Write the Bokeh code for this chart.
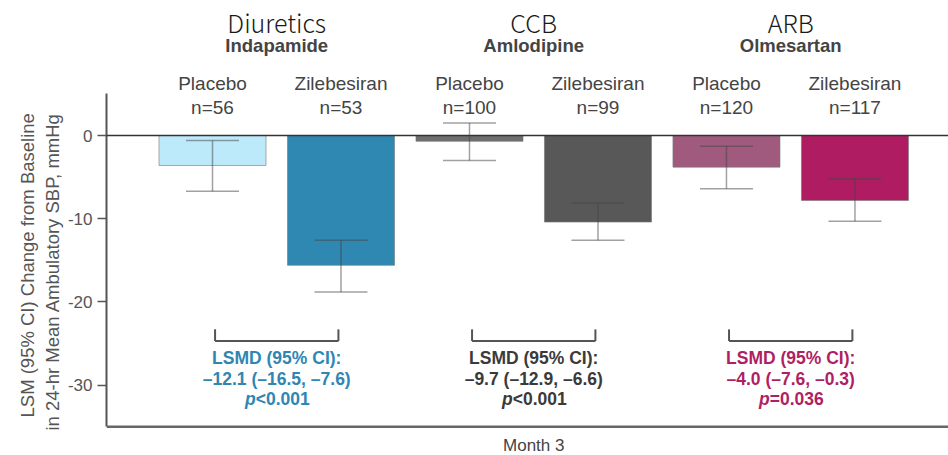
from bokeh.plotting import figure
from bokeh.models import (ColumnDataSource, FixedTicker, Span, Whisker, TeeHead, Title)
from bokeh.core.properties import value
from bokeh.embed import file_html
from bokeh.resources import INLINE

# --- data -----------------------------------------------------------------
classes = ["Diuretics", "CCB", "ARB"]
drugs = ["Indapamide", "Amlodipine", "Olmesartan"]
arms = ["Placebo", "Zilebesiran", "Placebo", "Zilebesiran", "Placebo", "Zilebesiran"]
n_labels = ["n=56", "n=53", "n=100", "n=99", "n=120", "n=117"]
lsm = [-3.6, -15.6, -0.7, -10.4, -3.8, -7.8]
ci_upper = [-0.6, -12.6, 1.5, -8.1, -1.3, -5.2]
ci_lower = [-6.7, -18.8, -3.0, -12.6, -6.4, -10.3]
bar_colors = ["#BDEAFB", "#2E88B2", "#6E6E6E", "#585858", "#A05A7E", "#B01C62"]

lsmd_text = ["\u201312.1 (\u201316.5, \u20137.6)", "\u20139.7 (\u201312.9, \u20136.6)", "\u20134.0 (\u20137.6, \u20130.3)"]
p_text = ["<0.001", "<0.001", "=0.036"]
lsmd_colors = ["#2F86B2", "#3A3A3A", "#AF1F63"]

y_ticks = [0, -10, -20, -30]
y_tick_labels = ["0", "-10", "-20", "-30"]
y_title = ["LSM (95% CI) Change from Baseline", "in 24-hr Mean Ambulatory SBP, mmHg"]
x_title = "Month 3"

# --- positions ---------------------------------------------------------------
x = list(range(len(arms)))
group_x = [(x[2 * g] + x[2 * g + 1]) / 2 for g in range(len(classes))]
y_floor = -35  # bottom of the value axis

src = ColumnDataSource(dict(x=x, top=[0] * len(x), bottom=lsm, color=bar_colors,
                            upper=ci_upper, lower=ci_lower))

p = figure(width=948, height=455, output_backend="svg", toolbar_location=None,
           x_range=(-0.825, 5.728), y_range=(-38.46, 16.23), x_axis_location=None,
           min_border_left=106, min_border_right=0, min_border_top=0, min_border_bottom=0)
p.outline_line_color = None
p.xgrid.visible = False
p.ygrid.visible = False
p.background_fill_color = "white"

# bars
p.vbar(x="x", top="top", bottom="bottom", width=0.833, fill_color="color",
       line_color="#777777", line_alpha=0.6, line_width=1, source=src)

# zero line and baseline of the chart
p.add_layout(Span(location=0, dimension="width", line_color="#333333", line_width=1.5))
p.add_layout(Span(location=y_floor, dimension="width", line_color="#666666", line_width=2.5))

# confidence intervals, drawn on top of the bars
head_kw = dict(size=53, line_color="#444444", line_alpha=0.5, line_width=1.5)
whisk = Whisker(base="x", upper="upper", lower="lower", source=src, level="overlay",
                line_color="#444444", line_alpha=0.5, line_width=1.5,
                upper_head=TeeHead(**head_kw), lower_head=TeeHead(**head_kw))
p.add_layout(whisk)

# comparison brackets
bx0 = [x[2 * g] + 0.02 for g in range(3)]
bx1 = [x[2 * g + 1] - 0.02 for g in range(3)]
p.segment(x0=bx0, x1=bx1, y0=[-24.7] * 3, y1=[-24.7] * 3, line_color="#555555", line_width=2)
p.segment(x0=bx0, x1=bx0, y0=[-23.3] * 3, y1=[-24.7] * 3, line_color="#555555", line_width=2)
p.segment(x0=bx1, x1=bx1, y0=[-23.3] * 3, y1=[-24.7] * 3, line_color="#555555", line_width=2)

# LSMD annotations
lsmd_font = value("Liberation Sans")
p.text(x=group_x, y=[-26.8] * 3, text=["LSMD (95% CI):"] * 3, text_color=lsmd_colors,
       text_font=lsmd_font, text_font_style="bold", text_font_size="17.5px",
       text_align="center", text_baseline="middle")
p.text(x=group_x, y=[-29.3] * 3, text=lsmd_text, text_color=lsmd_colors,
       text_font=lsmd_font, text_font_style="bold", text_font_size="17.5px",
       text_align="center", text_baseline="middle")
p.text(x=group_x, y=[-31.7] * 3, text=["p"] * 3, text_color=lsmd_colors, x_offset=-21,
       text_font=lsmd_font, text_font_style="bold italic", text_font_size="17.5px",
       text_align="right", text_baseline="middle")
p.text(x=group_x, y=[-31.7] * 3, text=p_text, text_color=lsmd_colors, x_offset=-21,
       text_font=lsmd_font, text_font_style="bold", text_font_size="17.5px",
       text_align="left", text_baseline="middle")

# headers
p.text(x=group_x, y=[13.6] * 3, text=classes, text_color="#1A1A1A",
       text_font=value("'Noto Sans CJK JP Light', 'DejaVu Sans ExtraLight', 'Noto Sans CJK JP'"),
       text_font_size="25px", text_align="center", text_baseline="middle")
p.text(x=group_x, y=[10.8] * 3, text=drugs, text_color="#444444",
       text_font=value("Liberation Sans"), text_font_style="bold", text_font_size="18.5px",
       text_align="center", text_baseline="middle")
p.text(x=x, y=[6.25] * 6, text=arms, text_color="#444444",
       text_font=value("Liberation Sans"), text_font_size="19px",
       text_align="center", text_baseline="middle")
p.text(x=x, y=[3.4] * 6, text=n_labels, text_color="#444444",
       text_font=value("Liberation Sans"), text_font_size="19px",
       text_align="center", text_baseline="middle")

# time point label under the baseline
p.text(x=[group_x[1]], y=[-37.25], text=[x_title], text_color="#444444",
       text_font=value("Liberation Sans"), text_font_size="17px",
       text_align="center", text_baseline="middle")

# value axis
ya = p.yaxis[0]
ya.ticker = FixedTicker(ticks=y_ticks)
ya.major_label_overrides = {t: s for t, s in zip(y_ticks, y_tick_labels)}
ya.bounds = (y_floor, 5)
ya.minor_tick_line_color = None
ya.major_tick_out = 9
ya.major_tick_in = 0
ya.major_tick_line_color = "#555555"
ya.major_tick_line_width = 1.5
ya.axis_line_color = "#555555"
ya.axis_line_width = 2
ya.major_label_text_font = "Liberation Sans"
ya.major_label_text_font_size = "17px"
ya.major_label_text_color = "#555555"
ya.major_label_standoff = 5

# two-line y title, started just below the axis floor
for line, standoff, offset in zip(reversed(y_title), [4, 0], [25, 38]):
    p.add_layout(Title(text=line, align="left", offset=offset, standoff=standoff,
                       text_font="Liberation Sans", text_font_style="normal",
                       text_font_size="18.5px", text_color="#555555"), "left")

open("out.html", "w").write(file_html(p, INLINE))
